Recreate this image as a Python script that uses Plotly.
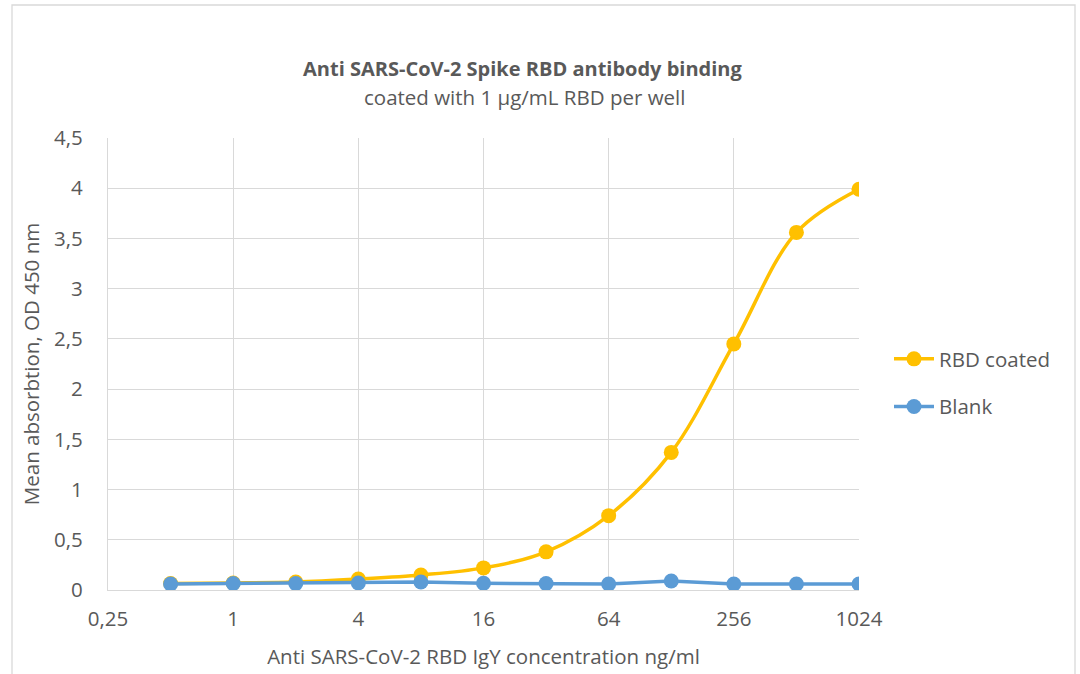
import plotly.graph_objects as go

concentration = [0.5, 1, 2, 4, 8, 16, 32, 64, 128, 256, 512, 1024]
rbd_coated = [0.065, 0.07, 0.08, 0.11, 0.15, 0.22, 0.38, 0.74, 1.37, 2.45, 3.56, 3.99]
blank = [0.06, 0.065, 0.065, 0.07, 0.08, 0.067, 0.065, 0.06, 0.09, 0.06, 0.06, 0.06]

x_tickvals = [0.25, 1, 4, 16, 64, 256, 1024]
x_ticktext = ["0,25", "1", "4", "16", "64", "256", "1024"]
y_tickvals = [0, 0.5, 1, 1.5, 2, 2.5, 3, 3.5, 4, 4.5]

FONT = "'Open Sans', sans-serif"
GRAY = "#595959"
GRID = "#d9d9d9"
FS = 20.5

L, R, T, B = 108, 221, 138, 84
W, H = 1080, 674
pw, ph = W - L - R, H - T - B

def px(xp):
    return (xp - L) / pw

def py(yp):
    return (H - B - yp) / ph

fig = go.Figure()
fig.add_trace(go.Scatter(
    x=concentration, y=rbd_coated, name="RBD coated", mode="lines+markers",
    legendgroup="a",
    line=dict(color="#FFC000", width=3.5, shape="spline", smoothing=1),
    marker=dict(color="#FFC000", size=15),
))
fig.add_trace(go.Scatter(
    x=concentration, y=blank, name="Blank", mode="lines+markers",
    legendgroup="b",
    line=dict(color="#5B9BD5", width=3.5),
    marker=dict(color="#5B9BD5", size=15),
))

fig.update_layout(
    width=W, height=H,
    margin=dict(l=L, r=R, t=T, b=B, autoexpand=False),
    paper_bgcolor="white", plot_bgcolor="white",
    separators=", ",
    font=dict(family=FONT, color=GRAY, size=FS),
    showlegend=True,
    legend=dict(x=px(889), y=py(383), xanchor="left", yanchor="middle",
                font=dict(size=FS, color=GRAY), itemwidth=40,
                tracegroupgap=18, bgcolor="rgba(0,0,0,0)"),
    xaxis=dict(type="log", range=[-0.60206, 3.0103], automargin=False,
               tickvals=x_tickvals, ticktext=x_ticktext,
               showgrid=True, gridcolor=GRID, gridwidth=1.3,
               showline=True, linecolor=GRID, linewidth=1.3,
               zeroline=False, ticks="outside", ticklen=10,
               tickcolor="rgba(0,0,0,0)",
               tickfont=dict(size=FS, color=GRAY),
               title=dict(text="Anti SARS-CoV-2 RBD IgY concentration ng/ml",
                          font=dict(size=FS, color=GRAY), standoff=18)),
    yaxis=dict(range=[0, 4.5], tickvals=y_tickvals, automargin=False,
               showgrid=True, gridcolor=GRID, gridwidth=1.3,
               showline=True, linecolor=GRID, linewidth=1.3,
               zeroline=False, ticks="outside", ticklen=20,
               tickcolor="rgba(0,0,0,0)",
               tickfont=dict(size=FS, color=GRAY),
               title=dict(text="Mean absorbtion, OD 450 nm",
                          font=dict(size=FS, color=GRAY), standoff=8)),
    annotations=[
        dict(text="<b>Anti SARS-CoV-2 Spike RBD antibody binding</b>",
             x=px(523), y=py(68), xref="paper", yref="paper",
             xanchor="center", yanchor="middle", showarrow=False,
             font=dict(size=20, color=GRAY)),
        dict(text="coated with 1 µg/mL RBD per well",
             x=px(524), y=py(97), xref="paper", yref="paper",
             xanchor="center", yanchor="middle", showarrow=False,
             font=dict(size=20.5, color=GRAY)),
    ],
    shapes=[
        dict(type="rect", xref="paper", yref="paper",
             x0=px(12), x1=px(1075), y0=py(700), y1=py(5),
             line=dict(color=GRID, width=1.3), fillcolor="rgba(0,0,0,0)",
             layer="below"),
    ],
)

fig.write_html("out.html", config={"displayModeBar": False},
               post_script="document.body.style.margin='0';")
